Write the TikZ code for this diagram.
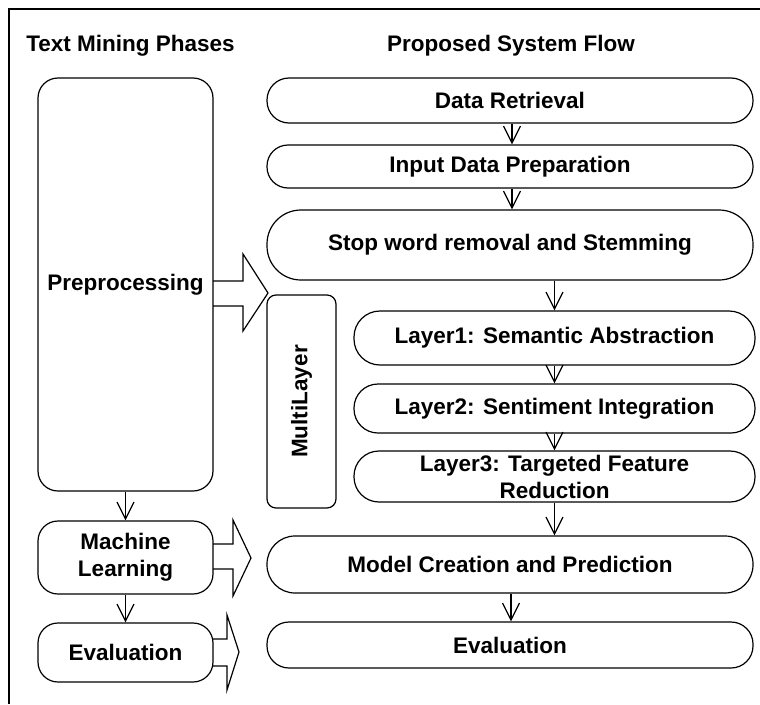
\documentclass[tikz,border=0pt]{standalone}
\usepackage{fontspec}
\setmainfont{Liberation Sans}
\usetikzlibrary{arrows.meta}
\begin{document}
\begin{tikzpicture}[x=1pt,y=-1pt,
  every node/.style={font=\fontsize{22.5}{27}\selectfont\bfseries, inner sep=0pt, align=center},
  rbox/.style n args={3}{draw, line width=1.2pt, minimum width=#1, minimum height=#2, rounded corners=#3},
  conn/.style={draw, line width=1.2pt, -{Straight Barb[length=17pt,width=17pt]}},
  blockarrow/.style={draw, line width=1.2pt, line join=miter}]
\useasboundingbox (0,0) rectangle (760,704);
% frame
\coordinate (fr1) at (760,9);
\coordinate (fr2) at (9,9);
\coordinate (fr3) at (9,704);
\draw[line width=1.2pt] (fr1) -- (fr2) -- (fr3);
% titles
\node[anchor=base] (t1) at (130.5,51) {Text Mining Phases};
\node[anchor=base] (t2) at (511,51) {Proposed System Flow};
% left column
\node[rbox={175pt}{413pt}{20pt}] (pre) at (125.5,284.5) {Preprocessing};
\node[rbox={175pt}{73pt}{20pt}] (mlL) at (125.5,557.5) {Machine\\Learning};
\node[rbox={175pt}{59pt}{20pt}] (evL) at (125.5,652.5) {Evaluation};
% right column
\node[rbox={486pt}{45pt}{22pt}] (dr) at (510,100.5) {Data Retrieval};
\node[rbox={486pt}{43pt}{21pt}] (idp) at (510,166.5) {Input Data Preparation};
\node[rbox={486pt}{70pt}{34pt}] (sw) at (510,245) {Stop word removal and Stemming};
\node[rbox={69pt}{213pt}{9pt}] (mlay) at (301.5,401.5) {};
\node[rotate=90] (mlayt) at (mlay.center) {MultiLayer};
\node[rbox={401pt}{54pt}{26pt}] (l1) at (554.5,338) {Layer1: Semantic Abstraction};
\node[rbox={401pt}{49pt}{24pt}] (l2) at (554.5,408.5) {Layer2: Sentiment Integration};
\node[rbox={401pt}{51pt}{25pt}] (l3) at (554.5,476.5) {Layer3: Targeted Feature\\Reduction};
\node[rbox={486pt}{57pt}{28pt}] (mod) at (510,564.5) {Model Creation and Prediction};
\node[rbox={486pt}{46pt}{22pt}] (evR) at (510,645) {Evaluation};
% connectors left
\draw[conn] (pre.south) -- (mlL.north);
\draw[conn] (mlL.south) -- (evL.north);
% connectors right
\draw[conn] ([xshift=2pt]dr.south) -- ([xshift=2pt]idp.north);
\draw[conn] ([xshift=2pt]idp.south) -- ([xshift=2pt]sw.north);
\draw[conn] (sw.south -| l1.north) -- (l1.north);
\draw[conn] (l1.south) -- (l2.north);
\draw[conn] (l2.south) -- (l3.north);
\draw[conn] (l3.south) -- (l3.south |- mod.north);
\draw[conn] ([xshift=1pt]mod.south) -- ([xshift=1pt]evR.north);
% block arrows
\draw[blockarrow] (213,281) -- (243,281) -- (243,254) -- (268,293) -- (243,331) -- (243,306) -- (213,306);
\draw[blockarrow] (213,544) -- (233,544) -- (233,520) -- (251,558) -- (233,596) -- (233,569) -- (213,569);
\draw[blockarrow] (213,639) -- (227,639) -- (227,615) -- (239,652) -- (227,690) -- (227,666) -- (213,666);
\end{tikzpicture}
\end{document}
